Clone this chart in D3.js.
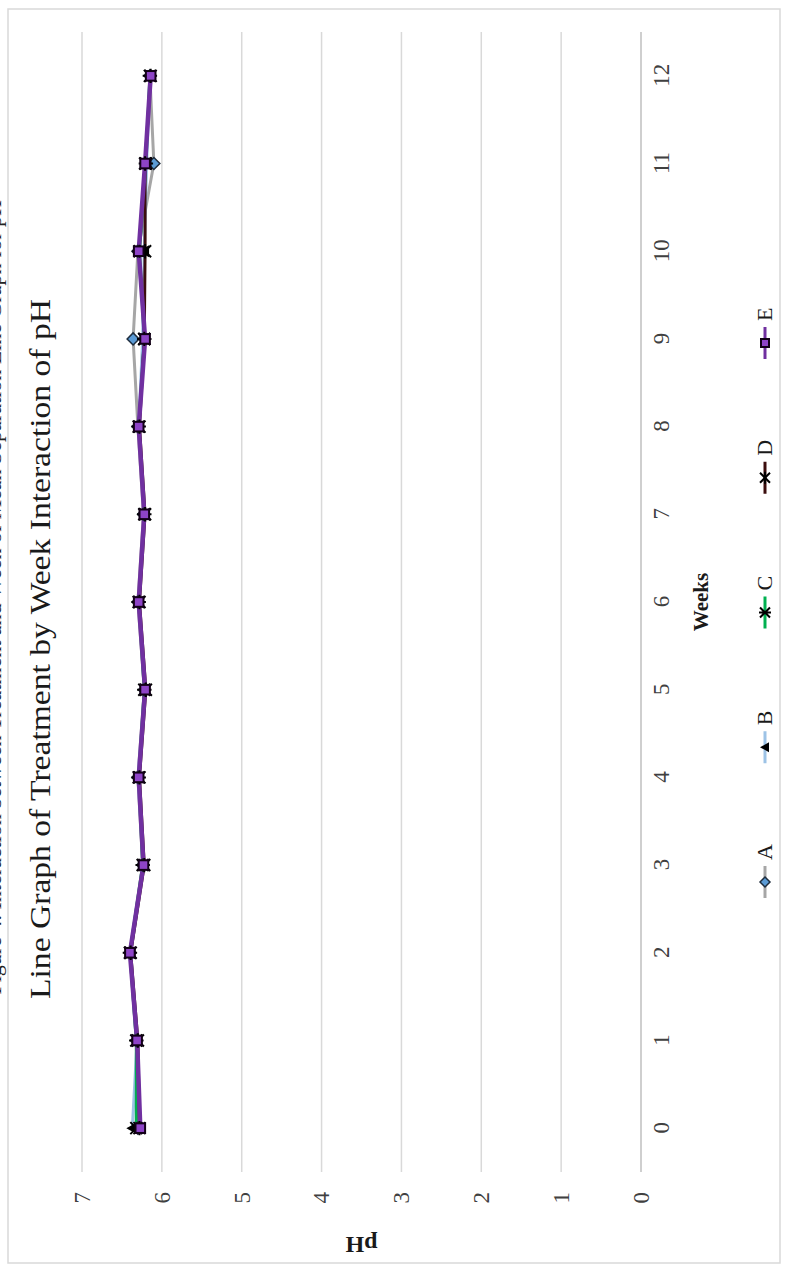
<!DOCTYPE html>
<html>
<head>
<meta charset="utf-8">
<script src="https://cdn.jsdelivr.net/npm/d3@7"></script>
<style>
  html, body { margin: 0; padding: 0; background: #fff; }
  svg { display: block; }
</style>
</head>
<body>
<svg id="chart" width="788" height="1264"></svg>
<script>
// Weeks on the category axis
const weeks = [0, 1, 2, 3, 4, 5, 6, 7, 8, 9, 10, 11, 12];
// pH tick values
const phTicks = [0, 1, 2, 3, 4, 5, 6, 7];
// Treatment names
const treatments = ["A", "B", "C", "D", "E"];
// Mean pH per treatment for each week
const phA = [6.30, 6.32, 6.40, 6.24, 6.30, 6.22, 6.30, 6.23, 6.30, 6.36, 6.30, 6.10, 6.15];
const phB = [6.37, 6.31, 6.39, 6.23, 6.30, 6.21, 6.29, 6.22, 6.29, 6.24, 6.22, 6.19, 6.15];
const phC = [6.32, 6.32, 6.40, 6.24, 6.29, 6.22, 6.29, 6.22, 6.29, 6.22, 6.28, 6.20, 6.15];
const phD = [6.28, 6.30, 6.39, 6.22, 6.28, 6.20, 6.28, 6.21, 6.28, 6.22, 6.21, 6.21, 6.14];
const phE = [6.27, 6.31, 6.40, 6.23, 6.29, 6.21, 6.29, 6.22, 6.29, 6.21, 6.29, 6.21, 6.14];

const seriesValues = [phA, phB, phC, phD, phE];
const styles = {
  A: { line: "#a6a6a6", width: 3,   marker: "diamond" },
  B: { line: "#9dc3e6", width: 3,   marker: "triangle" },
  C: { line: "#00b050", width: 3,   marker: "asterisk" },
  D: { line: "#3b0d0d", width: 3,   marker: "star" },
  E: { line: "#7030a0", width: 4.5, marker: "square" }
};

const W = 1264, H = 788;
const serif = "'Liberation Serif', 'Times New Roman', serif";

const svg = d3.select("#chart");

// The whole figure is laid out in landscape and turned a quarter turn counter-clockwise
const g = svg.append("g").attr("transform", `translate(0,${W}) rotate(-90)`);

// Caption above the figure, mostly outside the frame
g.append("text")
  .attr("x", 1064).attr("y", 1)
  .attr("text-anchor", "end")
  .attr("font-family", serif).attr("font-size", 22).attr("fill", "#222")
  .text("Figure 4. Interaction between Treatment and Week of Mean Separation Line Graph for pH");

// Chart frame
g.append("rect")
  .attr("x", 1).attr("y", 8).attr("width", 1254).attr("height", 772)
  .attr("fill", "none").attr("stroke", "#d9d9d9").attr("stroke-width", 1.5);

const x = d3.scalePoint().domain(weeks).range([92, 1232]).padding(0.5);
const y = d3.scaleLinear().domain([0, 7]).range([641, 82]);

// Horizontal gridlines
g.append("g")
  .selectAll("line").data(phTicks).join("line")
  .attr("x1", 92).attr("x2", 1232)
  .attr("y1", d => y(d)).attr("y2", d => y(d))
  .attr("stroke", d => d === 0 ? "#bfbfbf" : "#d9d9d9")
  .attr("stroke-width", 1.5);

// pH axis labels
const yAxis = d3.axisLeft(y).tickValues(phTicks).tickFormat(d3.format("d")).tickSize(0).tickPadding(0);
g.append("g").attr("transform", "translate(72,0)").call(yAxis)
  .call(s => s.select(".domain").remove())
  .call(s => s.selectAll("text").attr("font-family", serif).attr("font-size", 23).attr("fill", "#404040"));

// Week axis labels
const xAxis = d3.axisBottom(x).tickSize(0).tickPadding(0);
g.append("g").attr("transform", "translate(0,653)").call(xAxis)
  .call(s => s.select(".domain").remove())
  .call(s => s.selectAll("text").attr("font-family", serif).attr("font-size", 23).attr("fill", "#404040"));

// Title
g.append("text")
  .attr("x", 615).attr("y", 50)
  .attr("text-anchor", "middle")
  .attr("font-family", serif).attr("font-size", 29).attr("fill", "#1a1a1a")
  .attr("textLength", 700).attr("lengthAdjust", "spacingAndGlyphs")
  .text("Line Graph of Treatment by Week Interaction of pH");

// Axis titles
g.append("text")
  .attr("transform", `translate(27,${(y(0) + y(7)) / 2}) rotate(-90)`)
  .attr("text-anchor", "middle")
  .attr("font-family", serif).attr("font-size", 24).attr("font-weight", "bold").attr("fill", "#1a1a1a")
  .text("pH");

g.append("text")
  .attr("x", 662).attr("y", 708)
  .attr("text-anchor", "middle")
  .attr("font-family", serif).attr("font-size", 21).attr("font-weight", "bold").attr("fill", "#1a1a1a")
  .text("Weeks");

// Marker drawing
function drawMarker(sel, kind, size) {
  const s = size;
  if (kind === "diamond") {
    sel.append("path")
      .attr("d", `M0,${-s}L${s},0L0,${s}L${-s},0Z`)
      .attr("fill", "#5b9bd5").attr("stroke", "#1f2d3d").attr("stroke-width", 1.5);
  } else if (kind === "triangle") {
    sel.append("path")
      .attr("d", `M0,${-s}L${s},${s * 0.8}L${-s},${s * 0.8}Z`)
      .attr("fill", "#000");
  } else if (kind === "asterisk") {
    const a = s;
    sel.append("path")
      .attr("d", `M${-a},${-a}L${a},${a}M${-a},${a}L${a},${-a}M0,${-a * 1.2}L0,${a * 1.2}`)
      .attr("stroke", "#000").attr("stroke-width", 2).attr("fill", "none");
  } else if (kind === "star") {
    const a = s;
    sel.append("path")
      .attr("d", `M${-a},${-a}L${a},${a}M${-a},${a}L${a},${-a}M${-a * 1.2},0L${a * 1.2},0`)
      .attr("stroke", "#000").attr("stroke-width", 2).attr("fill", "none");
  } else if (kind === "square") {
    sel.append("rect")
      .attr("x", -s * 0.8).attr("y", -s * 0.8).attr("width", s * 1.6).attr("height", s * 1.6)
      .attr("fill", "#8e44c7").attr("stroke", "#120018").attr("stroke-width", 2);
  }
}

const line = d3.line().x((d, i) => x(weeks[i])).y(d => y(d));

// Lines for each treatment
treatments.forEach((t, k) => {
  g.append("path")
    .datum(seriesValues[k])
    .attr("d", line)
    .attr("fill", "none")
    .attr("stroke", styles[t].line)
    .attr("stroke-width", styles[t].width)
    .attr("stroke-linejoin", "round");
});

// Markers for each treatment
treatments.forEach((t, k) => {
  g.append("g").selectAll("g").data(seriesValues[k]).join("g")
    .attr("transform", (d, i) => `translate(${x(weeks[i])},${y(d)})`)
    .each(function () { drawMarker(d3.select(this), styles[t].marker, 6); });
});

// Legend
const legendX = d3.scalePoint().domain(treatments).range([382, 921]);
const legend = g.append("g").selectAll("g").data(treatments).join("g")
  .attr("transform", d => `translate(${legendX(d)},765)`);
legend.append("line")
  .attr("x1", -16).attr("x2", 16)
  .attr("stroke", d => styles[d].line).attr("stroke-width", 3);
legend.each(function (d) { drawMarker(d3.select(this), styles[d].marker, 5); });
legend.append("text")
  .attr("x", 22).attr("y", 7)
  .attr("font-family", serif).attr("font-size", 22).attr("fill", "#1a1a1a")
  .text(d => d);
</script>
</body>
</html>
